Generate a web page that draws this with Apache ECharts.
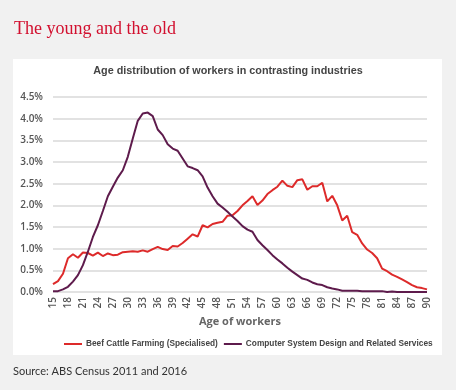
<!DOCTYPE html>
<html><head><meta charset="utf-8">
<script src="https://cdn.jsdelivr.net/npm/echarts@6/dist/echarts.min.js"></script>
<style>html,body{margin:0;padding:0;background:#f1f1f1;}#c{width:456px;height:390px;}</style>
</head><body><div id="c"></div>
<script>
const ages = ['15','16','17','18','19','20','21','22','23','24','25','26','27','28','29','30','31','32','33','34','35','36','37','38','39','40','41','42','43','44','45','46','47','48','49','50','51','52','53','54','55','56','57','58','59','60','61','62','63','64','65','66','67','68','69','70','71','72','73','74','75','76','77','78','79','80','81','82','83','84','85','86','87','88','89','90'];
const beefCattle = [0.18,0.25,0.42,0.78,0.87,0.79,0.91,0.90,0.84,0.91,0.83,0.89,0.85,0.86,0.92,0.93,0.94,0.93,0.96,0.93,0.99,1.04,0.99,0.97,1.06,1.05,1.13,1.23,1.33,1.28,1.54,1.49,1.57,1.60,1.62,1.76,1.77,1.87,2.00,2.10,2.21,2.01,2.11,2.26,2.35,2.43,2.57,2.45,2.42,2.58,2.60,2.36,2.44,2.44,2.52,2.09,2.22,2.00,1.65,1.76,1.38,1.32,1.12,0.98,0.90,0.78,0.54,0.48,0.40,0.35,0.29,0.23,0.16,0.11,0.09,0.06];
const computerDesign = [0.02,0.02,0.06,0.12,0.24,0.39,0.62,0.93,1.27,1.54,1.87,2.21,2.43,2.64,2.81,3.12,3.54,3.95,4.12,4.14,4.06,3.75,3.62,3.41,3.31,3.26,3.08,2.90,2.86,2.81,2.67,2.41,2.21,2.04,1.95,1.85,1.74,1.64,1.52,1.44,1.39,1.20,1.08,0.97,0.85,0.75,0.66,0.56,0.47,0.39,0.31,0.28,0.22,0.18,0.16,0.11,0.08,0.06,0.03,0.03,0.03,0.03,0.02,0.02,0.02,0.02,0.02,0.00,0.01,0.00,0.00,0.00,0.00,0.00,0.00,0.00];
const seriesNames = ['Beef Cattle Farming (Specialised)','Computer System Design and Related Services'];

const chart = echarts.init(document.getElementById('c'), null, {renderer:'canvas'});
chart.setOption({
  backgroundColor:'#f1f1f1',
  animation:false,
  graphic:[
    {type:'rect', z:-10, silent:true, shape:{x:13,y:59,width:429,height:296}, style:{fill:'#ffffff'}}
  ],
  title:[
    {text:'The young and the old', left:14, top:20, padding:0, textStyle:{fontFamily:"'Liberation Serif',serif", fontWeight:'normal', fontSize:18, color:'#d2102f'}},
    {text:'Age distribution of workers in contrasting industries', left:'center', top:66, padding:0, textStyle:{fontFamily:"'Liberation Sans',sans-serif", fontWeight:'bold', fontSize:10.8, color:'#444'}},
    {text:'Source: ABS Census 2011 and 2016', left:13, top:366, padding:0, textStyle:{fontFamily:'Lato', fontWeight:'normal', fontSize:11, color:'#333'}}
  ],
  legend:{
    data:seriesNames, left:64, top:340, padding:0, icon:'rect', itemWidth:18, itemHeight:2, itemGap:6,
    textStyle:{fontFamily:"'Liberation Sans',sans-serif", fontWeight:'bold', fontSize:8.3, color:'#444', padding:[0,0,0,-1]}
  },
  grid:{left:53, right:29, top:97, bottom:98, containLabel:false},
  xAxis:{
    type:'category', data:ages, boundaryGap:false,
    axisLine:{show:false}, axisTick:{show:false},
    axisLabel:{interval:2, rotate:90, margin:5, fontFamily:'Open Sans', fontSize:10, fontWeight:600, color:'#555'},
    name:'Age of workers', nameLocation:'middle', nameGap:24,
    nameTextStyle:{fontFamily:'Open Sans', fontWeight:'bold', fontSize:11, color:'#666'}
  },
  yAxis:{
    type:'value', min:0, max:4.5, interval:0.5,
    axisLine:{show:false}, axisTick:{show:false},
    axisLabel:{formatter:v=>v.toFixed(1)+'%', margin:10, fontFamily:'Open Sans', fontSize:10, fontWeight:600, color:'#555'},
    splitLine:{lineStyle:{color:'#e2e2e2', width:2}}
  },
  series:[
    {name:seriesNames[0], type:'line', data:beefCattle, symbol:'none', lineStyle:{color:'#dd2a2a', width:2}, itemStyle:{color:'#dd2a2a'}},
    {name:seriesNames[1], type:'line', data:computerDesign, symbol:'none', lineStyle:{color:'#5e1b4c', width:2}, itemStyle:{color:'#5e1b4c'}}
  ]
});
</script></body></html>
